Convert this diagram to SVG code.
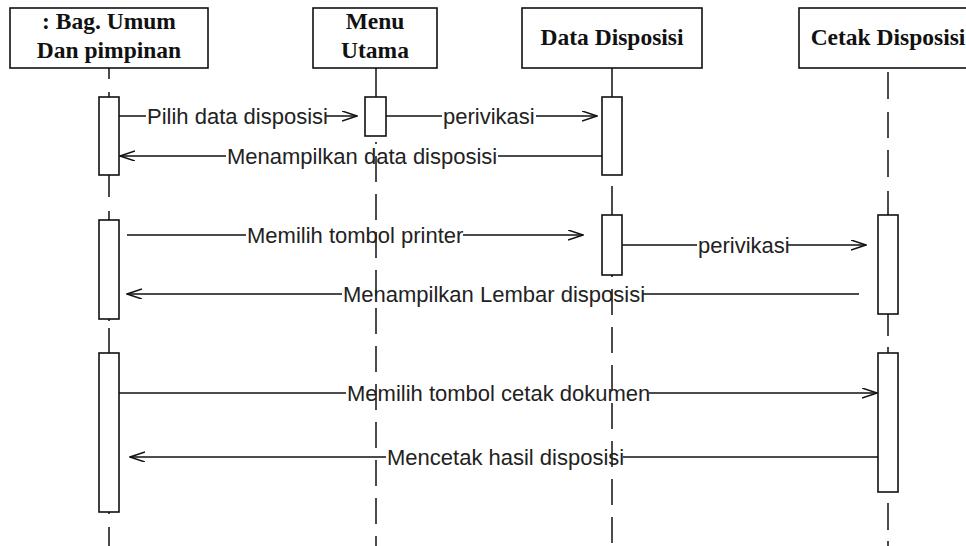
<svg xmlns="http://www.w3.org/2000/svg" width="966" height="546" viewBox="0 0 966 546">
<defs>
<marker id="open" markerWidth="16" markerHeight="12" refX="15" refY="5" orient="auto" markerUnits="userSpaceOnUse">
<path d="M0,0 L15,5 L0,10" fill="none" stroke="#111" stroke-width="1.5"/>
</marker>
<style>
.head{fill:#fff;stroke:#111;stroke-width:1.6}
.ht{font-family:"Liberation Serif","Times New Roman",serif;font-weight:bold;font-size:23.5px;fill:#111;text-anchor:middle}
.life{stroke:#111;stroke-width:1.5;fill:none}
.dash{stroke-dasharray:26 12}
.act{fill:#fff;stroke:#111;stroke-width:1.6}
.msg{stroke:#111;stroke-width:1.5;fill:none}
.lbl{font-family:"Liberation Sans",Arial,sans-serif;font-size:22px;fill:#222}
</style>
</defs>
<rect width="966" height="546" fill="#fff"/>

<g id="bag">
<path class="life" d="M109 68V79M109 92V97M109 175V197M109 211V220M109 319V321M109 328V353M109 512V514M109 527V546"/>
<rect class="head" x="10" y="8" width="198" height="60"/>
<text class="ht" x="109" y="29">: Bag. Umum</text>
<text class="ht" x="109" y="58">Dan pimpinan</text>
<rect class="act" x="99" y="97" width="20" height="78"/>
<rect class="act" x="99" y="220" width="20" height="99"/>
<rect class="act" x="99" y="353" width="20" height="159"/>
</g>

<g id="menu">
<path class="life" d="M376 68V97"/>
<path class="life dash" d="M376 142V546" stroke-dashoffset="24"/>
<rect class="head" x="313" y="8" width="124" height="60"/>
<text class="ht" x="375" y="29">Menu</text>
<text class="ht" x="375" y="58">Utama</text>
<rect class="act" x="365" y="97" width="21" height="39"/>
</g>

<g id="data">
<path class="life" d="M612 68V97M612 186V215"/>
<path class="life dash" d="M612 275V546" stroke-dashoffset="24"/>
<rect class="head" x="522" y="8" width="180" height="60"/>
<text class="ht" x="612" y="45">Data Disposisi</text>
<rect class="act" x="602" y="97" width="20" height="78"/>
<rect class="act" x="602" y="215" width="20" height="60"/>
</g>

<g id="cetak">
<path class="life" d="M888 72V99M888 112V138M888 150V177M888 191V215M888 314V336M888 347V353M888 503V530M888 541V546"/>
<rect class="head" x="799" y="8" width="178" height="60"/>
<text class="ht" x="888" y="45">Cetak Disposisi</text>
<rect class="act" x="878" y="215" width="20" height="99"/>
<rect class="act" x="878" y="353" width="20" height="139"/>
</g>

<g id="connectors">
<path class="msg" d="M119 116H146"/>
<path class="msg" d="M326 116H357" marker-end="url(#open)"/>
<text class="lbl" x="147" y="123.5">Pilih data disposisi</text>

<path class="msg" d="M386 116H442"/>
<path class="msg" d="M536 116H597" marker-end="url(#open)"/>
<text class="lbl" x="443" y="123.5">perivikasi</text>

<path class="msg" d="M602 156H498"/>
<path class="msg" d="M226 156H120" marker-end="url(#open)"/>
<text class="lbl" x="227" y="163.5">Menampilkan data disposisi</text>

<path class="msg" d="M127 235H246"/>
<path class="msg" d="M463 235H583" marker-end="url(#open)"/>
<text class="lbl" x="247" y="242.5">Memilih tombol printer</text>

<path class="msg" d="M622 245H697"/>
<path class="msg" d="M788 245H866" marker-end="url(#open)"/>
<text class="lbl" x="698" y="252.5">perivikasi</text>

<path class="msg" d="M859 294H643"/>
<path class="msg" d="M342 294H127" marker-end="url(#open)"/>
<text class="lbl" x="343" y="301.5">Menampilkan Lembar disposisi</text>

<path class="msg" d="M119 393H346"/>
<path class="msg" d="M649 393H877" marker-end="url(#open)"/>
<text class="lbl" x="347" y="400.5">Memilih tombol cetak dokumen</text>

<path class="msg" d="M878 457H623"/>
<path class="msg" d="M386 457H130" marker-end="url(#open)"/>
<text class="lbl" x="387" y="464.5">Mencetak hasil disposisi</text>
</g>
</svg>
